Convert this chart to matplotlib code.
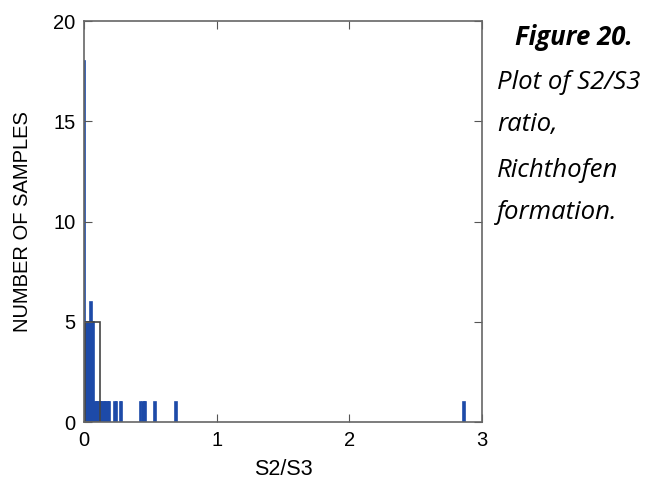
import numpy as np
import matplotlib
matplotlib.use("Agg")
import matplotlib.pyplot as plt

# fine histogram of S2/S3 ratio (bin width 0.01), nonzero bins only
bin_left = [0.00, 0.01, 0.02, 0.03, 0.04, 0.05, 0.06, 0.07, 0.08, 0.09,
            0.10, 0.11, 0.12, 0.13, 0.14, 0.15, 0.16, 0.17, 0.18, 0.19,
            0.23, 0.24, 0.27, 0.28, 0.42, 0.44, 0.45, 0.46, 0.53, 0.69, 2.86]
counts = [18, 2, 5, 5, 5, 6, 5, 5, 1, 1,
          1, 1, 1, 1, 1, 1, 1, 1, 1, 1,
          1, 1, 1, 1, 1, 1, 1, 1, 1, 1, 1]
bin_width = 0.01

# coarse outline bar
outline_left = [0.01]
outline_width = [0.11]
outline_height = [5]

xticks = [0, 1, 2, 3]
yticks = [0, 5, 10, 15, 20]

fig = plt.figure(figsize=(6.55, 4.82), dpi=100)
ax = fig.add_axes([0.128, 0.124, 0.608, 0.832])

ax.bar(bin_left, counts, width=bin_width, align='edge',
       color='#1d4aa8', edgecolor='#1d4aa8', linewidth=1.2)
ax.bar(outline_left, outline_height, width=outline_width, align='edge',
       fill=False, edgecolor='#444444', linewidth=1.2)

ax.set_xlim(0, 3)
ax.set_ylim(0, 20)
ax.set_xticks(xticks)
ax.set_yticks(yticks)
ax.tick_params(direction='in', top=True, right=True, length=5.5,
               color='#555555', labelsize=14.5, pad=6)
for s in ax.spines.values():
    s.set_color('#666666')
    s.set_linewidth(1.2)
for lab in ax.get_xticklabels() + ax.get_yticklabels():
    lab.set_family('Liberation Sans')

ax.set_xlabel('S2/S3', fontsize=15.5, family='Liberation Sans', labelpad=7)
ax.set_ylabel('NUMBER OF SAMPLES', fontsize=14.5, family='Liberation Sans', labelpad=15)

# caption
fig.text(0.786, 0.923, 'Figure 20.', fontsize=18.5, style='italic', weight='bold',
         family='Open Sans', va='center', ha='left')
cap = ['Plot of S2/S3', 'ratio,', 'Richthofen', 'formation.']
cap_y = [0.828, 0.741, 0.647, 0.560]
for line, y in zip(cap, cap_y):
    fig.text(0.759, y, line, fontsize=18.5, style='italic',
             family='Open Sans', va='center', ha='left')

fig.savefig('out.png', dpi=100)
